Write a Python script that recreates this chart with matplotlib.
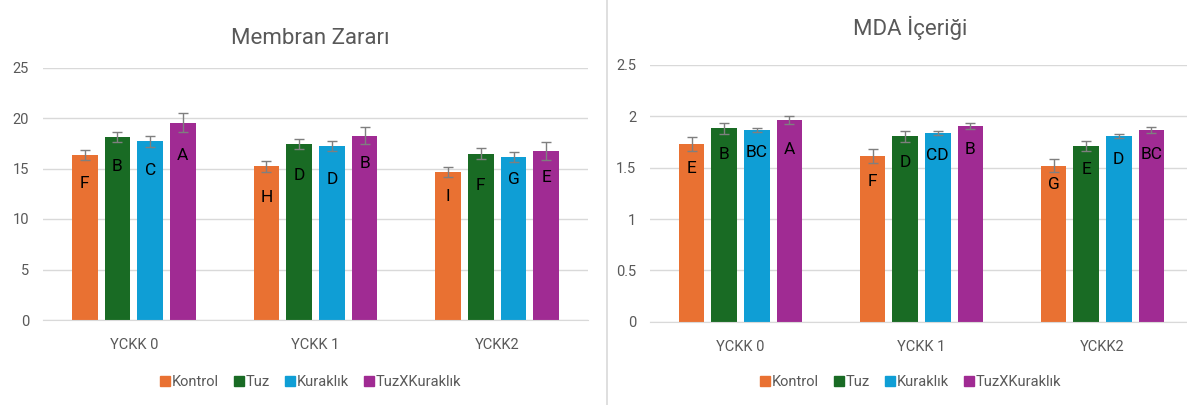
import matplotlib
matplotlib.use("Agg")
import matplotlib.pyplot as plt
from matplotlib.lines import Line2D
import numpy as np

plt.rcParams['font.family'] = ['Liberation Sans Narrow', 'Roboto', 'DejaVu Sans']

categories = ["YCKK 0", "YCKK 1", "YCKK2"]
series = ["Kontrol", "Tuz", "Kuraklık", "TuzXKuraklık"]
colors = ["#E97132", "#196B24", "#0F9ED5", "#A02B93"]

# Membran Zararı
mem_kontrol = [16.3, 15.2, 14.65]
mem_tuz = [18.1, 17.4, 16.45]
mem_kurak = [17.7, 17.2, 16.15]
mem_tuzx = [19.55, 18.25, 16.75]
mem_err_kontrol = [0.5, 0.5, 0.5]
mem_err_tuz = [0.5, 0.5, 0.55]
mem_err_kurak = [0.55, 0.5, 0.5]
mem_err_tuzx = [0.9, 0.85, 0.9]
mem_letters_kontrol = ["F", "H", "I"]
mem_letters_tuz = ["B", "D", "F"]
mem_letters_kurak = ["C", "D", "G"]
mem_letters_tuzx = ["A", "B", "E"]

# MDA İçeriği
mda_kontrol = [1.73, 1.615, 1.52]
mda_tuz = [1.885, 1.805, 1.71]
mda_kurak = [1.865, 1.838, 1.806]
mda_tuzx = [1.965, 1.906, 1.864]
mda_err_kontrol = [0.065, 0.065, 0.06]
mda_err_tuz = [0.055, 0.055, 0.05]
mda_err_kurak = [0.022, 0.017, 0.02]
mda_err_tuzx = [0.035, 0.03, 0.03]
mda_letters_kontrol = ["E", "F", "G"]
mda_letters_tuz = ["B", "D", "E"]
mda_letters_kurak = ["BC", "CD", "D"]
mda_letters_tuzx = ["A", "B", "BC"]

# layout: vertical positions of the letter annotations (data units)
mem_label_y = [[13.55, 12.1, 12.2], [15.2, 14.3, 13.3], [14.85, 13.9, 13.9], [16.25, 15.5, 14.15]]
mda_label_y = [[1.49, 1.37, 1.335], [1.63, 1.555, 1.48], [1.65, 1.62, 1.58], [1.68, 1.68, 1.63]]

W, H = 1187, 405
fig = plt.figure(figsize=(W / 100, H / 100), dpi=100)

grid_c = "#D9D9D9"
txt_c = "#595959"


def panel(rect, title, vals, errs, letters, label_y, ylim, yticks, ytl, title_xy, legend_x):
    ax = fig.add_axes(rect)
    x = np.arange(len(categories))
    bw = 0.141
    pitch = 0.18
    for i in range(4):
        xs = x + (i - 1.5) * pitch
        ax.bar(xs, vals[i], width=bw, color=colors[i], zorder=2)
        ax.errorbar(xs, vals[i], yerr=errs[i], fmt='none', ecolor="#7F7F7F",
                    elinewidth=1.0, capsize=3.5, capthick=1.0, zorder=3)
        for j in range(len(categories)):
            ax.text(xs[j], label_y[i][j], letters[i][j], ha='center', va='center',
                    fontsize=12.5, color='black', zorder=4)
    ax.set_xlim(-0.5, len(categories) - 0.5)
    ax.set_ylim(*ylim)
    ax.set_yticks(yticks)
    ax.set_yticklabels(ytl, fontsize=10.5, color=txt_c)
    ax.set_xticks(x)
    ax.set_xticklabels(categories, fontsize=10.5, color=txt_c)
    ax.tick_params(length=0, pad=10)
    ax.tick_params(axis='x', pad=13)
    ax.yaxis.grid(True, color=grid_c, linewidth=1.0, zorder=0)
    ax.set_axisbelow(True)
    for s in ax.spines.values():
        s.set_visible(False)
    ax.spines['bottom'].set_visible(True)
    ax.spines['bottom'].set_color(grid_c)
    fig.text(title_xy[0], title_xy[1], title, ha='center', va='center',
             fontsize=16, color=txt_c)
    handles = [Line2D([], [], marker='s', linestyle='none', markersize=7,
                      markerfacecolor=c, markeredgecolor=c) for c in colors]
    fig.legend(handles, series, loc='center', bbox_to_anchor=(legend_x, 1 - 382 / H),
               ncol=4, frameon=False, fontsize=10.5, labelcolor=txt_c,
               handletextpad=0.05, columnspacing=1.0, handlelength=0.8)
    return ax


ax1 = panel([43 / W, 1 - 320 / H, 545 / W, (320 - 67.5) / H], "Membran Zararı",
            [mem_kontrol, mem_tuz, mem_kurak, mem_tuzx],
            [mem_err_kontrol, mem_err_tuz, mem_err_kurak, mem_err_tuzx],
            [mem_letters_kontrol, mem_letters_tuz, mem_letters_kurak, mem_letters_tuzx],
            mem_label_y, (0, 25), [0, 5, 10, 15, 20, 25], ["0", "5", "10", "15", "20", "25"],
            (310 / W, 1 - 38 / H), 310 / W)

ax2 = panel([650 / W, 1 - 321.7 / H, 543 / W, (321.7 - 65) / H], "MDA İçeriği",
            [mda_kontrol, mda_tuz, mda_kurak, mda_tuzx],
            [mda_err_kontrol, mda_err_tuz, mda_err_kurak, mda_err_tuzx],
            [mda_letters_kontrol, mda_letters_tuz, mda_letters_kurak, mda_letters_tuzx],
            mda_label_y, (0, 2.5), [0, 0.5, 1, 1.5, 2, 2.5], ["0", "0.5", "1", "1.5", "2", "2.5"],
            (910 / W, 1 - 28 / H), 910 / W)

# separator between the two chart panels
fig.add_artist(Line2D([606.7 / W, 606.7 / W], [0, 1], color="#D9D9D9", linewidth=1.2))

fig.savefig("out.png", dpi=100)
